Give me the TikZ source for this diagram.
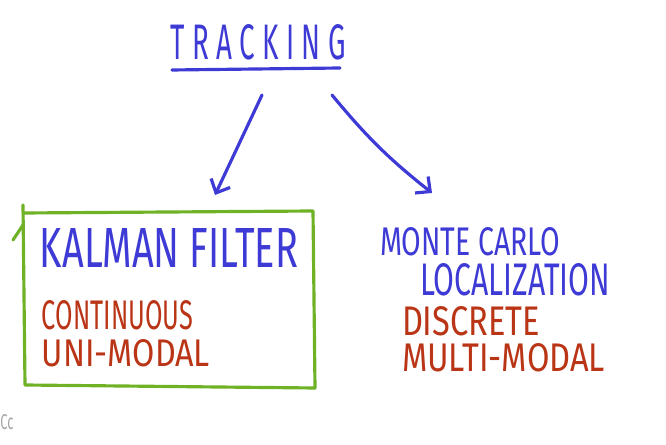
\documentclass[tikz,border=0pt]{standalone}
\usepackage{fontspec}
\setmainfont{Fira Sans}
\usepackage{graphicx}
\usetikzlibrary{arrows.meta}

\definecolor{penblue}{RGB}{62,58,214}
\definecolor{penred}{RGB}{186,52,22}
\definecolor{pengreen}{RGB}{112,178,38}

% hand-written word, squeezed to a given width and height
\newcommand{\hand}[3]{\resizebox{#1}{#2}{#3}}

\tikzset{
  word/.style={inner sep=0pt, font=\normalsize},
  stroke/.style={line width=1.8pt, line cap=round, line join=round},
  pen/.style={stroke, penblue, -{Straight Barb[length=2.2mm, width=4.2mm, line width=1.8pt]}},
}

\begin{document}
\begin{tikzpicture}
  \useasboundingbox[fill=white] (0,0) rectangle (13.32,8.9);

  \node[word, penblue] (track) at (5.16,8.06) {\hand{3.5cm}{0.7cm}{T R A C K I N G}};
  \coordinate (ul1) at (3.44,7.5);
  \coordinate (ul2) at (6.8,7.54);
  \draw[stroke, penblue] (ul1) -- (ul2);

  \coordinate (t1) at (5.24,7.0);
  \coordinate (t2) at (6.64,7.0);
  \coordinate (k) at (4.3,5.0);
  \coordinate (m) at (8.64,5.04);
  \draw[pen] (t1) -- (k);
  \draw[pen] (t2) to[bend right=6] (m);

  % left box
  \coordinate (b0) at (0.46,4.8);
  \coordinate (b1) at (0.48,4.64);
  \coordinate (b2) at (6.26,4.68);
  \coordinate (b3) at (6.3,1.14);
  \coordinate (b4) at (0.5,1.2);
  \draw[stroke, pengreen] (b0) -- (b4) -- (b3) -- (b2) -- (b1);
  \coordinate (tk1) at (0.46,4.4);
  \coordinate (tk2) at (0.26,4.1);
  \draw[stroke, pengreen] (tk1) -- (tk2);

  \node[word, penblue] (kalman) at (3.38,3.94) {\hand{5.16cm}{0.78cm}{KALMAN FILTER}};
  \node[word, penred] (cont) at (2.35,2.6) {\hand{3.02cm}{0.58cm}{CONTINUOUS}};
  \node[word, penred] (uni) at (2.52,1.83) {\hand{3.36cm}{0.54cm}{UNI-MODAL}};

  \node[word, penblue] (monte) at (9.4,4.06) {\hand{3.6cm}{0.56cm}{MONTE CARLO}};
  \node[word, penblue] (local) at (10.3,3.3) {\hand{3.8cm}{0.64cm}{LOCALIZATION}};
  \node[word, penred] (disc) at (9.42,2.48) {\hand{2.76cm}{0.58cm}{DISCRETE}};
  \node[word, penred] (multi) at (10.07,1.74) {\hand{4.06cm}{0.56cm}{MULTI-MODAL}};

  \node[word, anchor=west, gray!70] (cc) at (0.0,0.45) {\hand{0.26cm}{0.3cm}{Cc}};
\end{tikzpicture}
\end{document}
